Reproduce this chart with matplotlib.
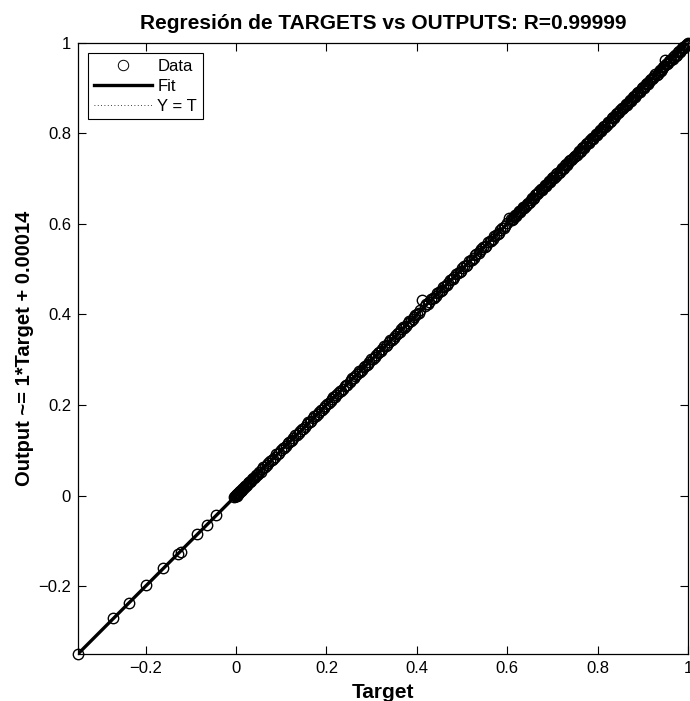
import numpy as np
import matplotlib
matplotlib.use("Agg")
import matplotlib.pyplot as plt
from matplotlib.lines import Line2D

plt.rcParams['font.family'] = ['Liberation Sans', 'DejaVu Sans']
plt.rcParams['axes.unicode_minus'] = True

# ---- data ----
targets_neg = [-0.350, -0.272, -0.236, -0.199, -0.161, -0.129, -0.123, -0.086, -0.065, -0.045]
outputs_neg = [-0.350, -0.271, -0.237, -0.198, -0.160, -0.130, -0.124, -0.085, -0.066, -0.044]

targets_zero = [-0.004, -0.002, 0.000, 0.001, 0.002, 0.003, 0.005, 0.006, 0.008, 0.010, 0.013,
                0.016, 0.019, 0.022, 0.026, 0.029, 0.033, 0.037, 0.041, 0.046, 0.051]
outputs_zero = [-0.003, -0.001, 0.001, 0.000, 0.003, 0.004, 0.004, 0.007, 0.009, 0.011, 0.012,
                0.017, 0.020, 0.021, 0.027, 0.030, 0.032, 0.038, 0.042, 0.045, 0.052]
targets_zero2 = [-0.001, 0.000, 0.002, 0.004, 0.004, 0.007, 0.009, 0.011, 0.014, 0.017,
                 0.020, 0.024, 0.028, 0.031, 0.035, 0.039, 0.044, 0.048]
outputs_zero2 = [0.000, -0.002, 0.001, 0.003, 0.005, 0.006, 0.010, 0.010, 0.015, 0.016,
                 0.021, 0.023, 0.029, 0.030, 0.036, 0.038, 0.045, 0.047]

targets_mid = [0.058, 0.064, 0.071, 0.079, 0.085, 0.093, 0.099, 0.107, 0.114, 0.121,
               0.127, 0.135, 0.142, 0.148, 0.156, 0.163, 0.170, 0.176, 0.184, 0.191,
               0.197, 0.205, 0.212, 0.219, 0.225, 0.233, 0.240, 0.246, 0.254, 0.261,
               0.268, 0.274, 0.282, 0.289, 0.295, 0.303, 0.310, 0.317, 0.323, 0.331,
               0.338, 0.344, 0.352, 0.359, 0.366, 0.372, 0.380, 0.387, 0.393, 0.401,
               0.408, 0.412, 0.421, 0.428, 0.435, 0.442, 0.449, 0.456, 0.462, 0.470,
               0.477, 0.483, 0.491, 0.498, 0.505, 0.511, 0.519, 0.526, 0.532, 0.540,
               0.547, 0.553, 0.561, 0.568, 0.575, 0.581, 0.589, 0.596, 0.603]
outputs_mid = [0.059, 0.063, 0.072, 0.078, 0.086, 0.092, 0.100, 0.106, 0.115, 0.120,
               0.128, 0.134, 0.143, 0.147, 0.157, 0.162, 0.171, 0.175, 0.185, 0.190,
               0.198, 0.204, 0.213, 0.218, 0.226, 0.232, 0.241, 0.245, 0.255, 0.260,
               0.269, 0.273, 0.283, 0.288, 0.296, 0.302, 0.311, 0.316, 0.324, 0.330,
               0.339, 0.343, 0.353, 0.358, 0.367, 0.371, 0.381, 0.386, 0.394, 0.400,
               0.409, 0.432, 0.422, 0.427, 0.436, 0.441, 0.450, 0.455, 0.463, 0.469,
               0.478, 0.482, 0.492, 0.497, 0.506, 0.510, 0.520, 0.525, 0.533, 0.539,
               0.548, 0.552, 0.562, 0.567, 0.576, 0.580, 0.590, 0.595, 0.612]
targets_mid2 = [0.054, 0.060, 0.068, 0.075, 0.081, 0.089, 0.096, 0.104, 0.110, 0.117,
                0.124, 0.131, 0.139, 0.145, 0.152, 0.160, 0.166, 0.173, 0.181, 0.187,
                0.194, 0.201, 0.209, 0.215, 0.222, 0.230, 0.236, 0.243, 0.251, 0.257,
                0.264, 0.272, 0.278, 0.285, 0.292, 0.299, 0.307, 0.313, 0.320, 0.328,
                0.334, 0.341, 0.349, 0.355, 0.362, 0.370, 0.376, 0.383, 0.391, 0.397,
                0.404, 0.417, 0.424, 0.432, 0.438, 0.445, 0.453, 0.459, 0.466, 0.474,
                0.480, 0.487, 0.495, 0.501, 0.508, 0.516, 0.522, 0.529, 0.537, 0.543,
                0.550, 0.558, 0.564, 0.571, 0.579, 0.585, 0.592, 0.599]
outputs_mid2 = [0.053, 0.062, 0.067, 0.077, 0.080, 0.091, 0.095, 0.106, 0.109, 0.119,
                0.123, 0.133, 0.138, 0.147, 0.151, 0.162, 0.165, 0.175, 0.180, 0.189,
                0.193, 0.203, 0.208, 0.217, 0.221, 0.232, 0.235, 0.245, 0.250, 0.259,
                0.263, 0.274, 0.277, 0.287, 0.291, 0.301, 0.306, 0.315, 0.319, 0.330,
                0.333, 0.343, 0.348, 0.357, 0.361, 0.372, 0.375, 0.385, 0.390, 0.399,
                0.403, 0.419, 0.423, 0.434, 0.437, 0.447, 0.452, 0.461, 0.465, 0.476,
                0.479, 0.489, 0.494, 0.503, 0.507, 0.518, 0.521, 0.531, 0.536, 0.545,
                0.549, 0.560, 0.563, 0.573, 0.578, 0.587, 0.591, 0.601]

targets_high = [0.608, 0.612, 0.617, 0.622, 0.626, 0.631, 0.636, 0.641, 0.645, 0.650,
                0.655, 0.659, 0.664, 0.669, 0.674, 0.678, 0.683, 0.688, 0.692, 0.697,
                0.702, 0.707, 0.711, 0.716, 0.721, 0.725, 0.730, 0.735, 0.740, 0.744,
                0.749, 0.754, 0.758, 0.763, 0.768, 0.773, 0.777, 0.782, 0.787, 0.791,
                0.796, 0.801, 0.806, 0.810, 0.815, 0.820, 0.824, 0.829, 0.834, 0.839,
                0.843, 0.848, 0.853, 0.857, 0.862, 0.867, 0.872, 0.876, 0.881, 0.886,
                0.890, 0.895, 0.900, 0.905, 0.909, 0.914, 0.919, 0.923, 0.928, 0.933,
                0.938, 0.942, 0.947, 0.949, 0.952, 0.956, 0.961, 0.966, 0.971, 0.975,
                0.980, 0.985, 0.989, 0.994, 0.997, 1.000]
outputs_high = [0.610, 0.611, 0.619, 0.621, 0.628, 0.630, 0.638, 0.640, 0.647, 0.649,
                0.657, 0.658, 0.666, 0.668, 0.676, 0.677, 0.685, 0.687, 0.694, 0.696,
                0.704, 0.706, 0.713, 0.715, 0.723, 0.724, 0.732, 0.734, 0.742, 0.743,
                0.751, 0.753, 0.760, 0.762, 0.770, 0.772, 0.779, 0.781, 0.789, 0.790,
                0.798, 0.800, 0.808, 0.809, 0.817, 0.819, 0.826, 0.828, 0.836, 0.838,
                0.845, 0.847, 0.855, 0.856, 0.864, 0.866, 0.874, 0.875, 0.883, 0.885,
                0.892, 0.894, 0.902, 0.904, 0.911, 0.913, 0.921, 0.922, 0.930, 0.932,
                0.940, 0.941, 0.949, 0.962, 0.954, 0.955, 0.963, 0.965, 0.973, 0.974,
                0.982, 0.984, 0.991, 0.993, 0.996, 0.999]
targets_high2 = [0.610, 0.615, 0.620, 0.624, 0.629, 0.634, 0.638, 0.643, 0.648, 0.652,
                 0.657, 0.662, 0.667, 0.671, 0.676, 0.681, 0.685, 0.690, 0.695, 0.700,
                 0.704, 0.709, 0.714, 0.718, 0.723, 0.728, 0.733, 0.737, 0.742, 0.747,
                 0.751, 0.756, 0.761, 0.766, 0.770, 0.775, 0.780, 0.784, 0.789, 0.794,
                 0.799, 0.803, 0.808, 0.813, 0.817, 0.822, 0.827, 0.832, 0.836, 0.841,
                 0.846, 0.850, 0.855, 0.860, 0.865, 0.869, 0.874, 0.879, 0.883, 0.888,
                 0.893, 0.898, 0.902, 0.907, 0.912, 0.916, 0.921, 0.926, 0.931, 0.935,
                 0.940, 0.945, 0.954, 0.959, 0.963, 0.968, 0.973, 0.978, 0.982, 0.987,
                 0.991, 0.995, 0.999]
outputs_high2 = [0.608, 0.616, 0.618, 0.625, 0.627, 0.635, 0.636, 0.644, 0.646, 0.653,
                 0.655, 0.663, 0.665, 0.672, 0.674, 0.682, 0.683, 0.691, 0.693, 0.701,
                 0.702, 0.710, 0.712, 0.719, 0.721, 0.729, 0.731, 0.738, 0.740, 0.748,
                 0.749, 0.757, 0.759, 0.767, 0.768, 0.776, 0.778, 0.785, 0.787, 0.795,
                 0.797, 0.804, 0.806, 0.814, 0.815, 0.823, 0.825, 0.833, 0.834, 0.842,
                 0.844, 0.851, 0.853, 0.861, 0.863, 0.870, 0.872, 0.880, 0.881, 0.889,
                 0.891, 0.899, 0.900, 0.908, 0.910, 0.917, 0.919, 0.927, 0.929, 0.936,
                 0.938, 0.946, 0.952, 0.960, 0.961, 0.969, 0.971, 0.979, 0.980, 0.988,
                 0.989, 0.996, 0.997]

fit_slope = 1.0
fit_intercept = 0.00014
r_value = "0.99999"

xticks = [-0.2, 0, 0.2, 0.4, 0.6, 0.8, 1]
yticks = [-0.2, 0, 0.2, 0.4, 0.6, 0.8, 1]
xtick_labels = ["\u22120.2", "0", "0.2", "0.4", "0.6", "0.8", "1"]
ytick_labels = ["\u22120.2", "0", "0.2", "0.4", "0.6", "0.8", "1"]

T = np.array(targets_neg + targets_zero + targets_zero2 + targets_mid + targets_mid2
             + targets_high + targets_high2)
Y = np.array(outputs_neg + outputs_zero + outputs_zero2 + outputs_mid + outputs_mid2
             + outputs_high + outputs_high2)

# ---- figure ----
fig = plt.figure(figsize=(6.9, 7.01), dpi=100)
ax = fig.add_axes([0.113, 0.067, 0.884, 0.872])

lo, hi = -0.35, 1.0
ms, mew = 7.5, 1.0
ax.plot(T, Y, linestyle='none', marker='o', markersize=ms, markerfacecolor='none',
        markeredgecolor='black', markeredgewidth=mew, zorder=2, clip_on=False)
xl = np.array([lo, hi])
ax.plot(xl, fit_slope * xl + fit_intercept, color='black', linewidth=2.4, zorder=3)
ax.plot(xl, xl, color='black', linestyle=(0, (1, 3)), linewidth=0.6, zorder=4)

ax.set_xlim(lo, hi)
ax.set_ylim(lo, hi)
ax.set_xticks(xticks)
ax.set_xticklabels(xtick_labels)
ax.set_yticks(yticks)
ax.set_yticklabels(ytick_labels)
ax.tick_params(direction='in', length=6, width=0.8, top=True, right=True,
               labelsize=12, pad=5)
for s in ax.spines.values():
    s.set_linewidth(0.9)

ax.set_title("Regresión de TARGETS vs OUTPUTS: R=" + r_value, fontsize=15,
             fontweight='bold', pad=10)
ax.set_xlabel("Target", fontsize=15, fontweight='bold', labelpad=5)
ax.set_ylabel("Output ~= %g*Target + %g" % (fit_slope, fit_intercept), fontsize=14.5,
              fontweight='bold', labelpad=3)

handles = [
    Line2D([], [], linestyle='none', marker='o', markersize=ms, markerfacecolor='none',
           markeredgecolor='black', markeredgewidth=0.7),
    Line2D([], [], color='black', linewidth=2.4),
    Line2D([], [], color='black', linestyle=(0, (1, 3)), linewidth=0.6),
]
leg = ax.legend(handles, ["Data", "Fit", "Y = T"], loc='upper left',
                bbox_to_anchor=(0.0, 1.0), borderaxespad=0.6, fontsize=12,
                handlelength=3.5, handletextpad=0.3, labelspacing=0.3,
                borderpad=0.35, fancybox=False, framealpha=1, edgecolor='black')
leg.get_frame().set_linewidth(0.8)

fig.savefig("out.png", dpi=100)
